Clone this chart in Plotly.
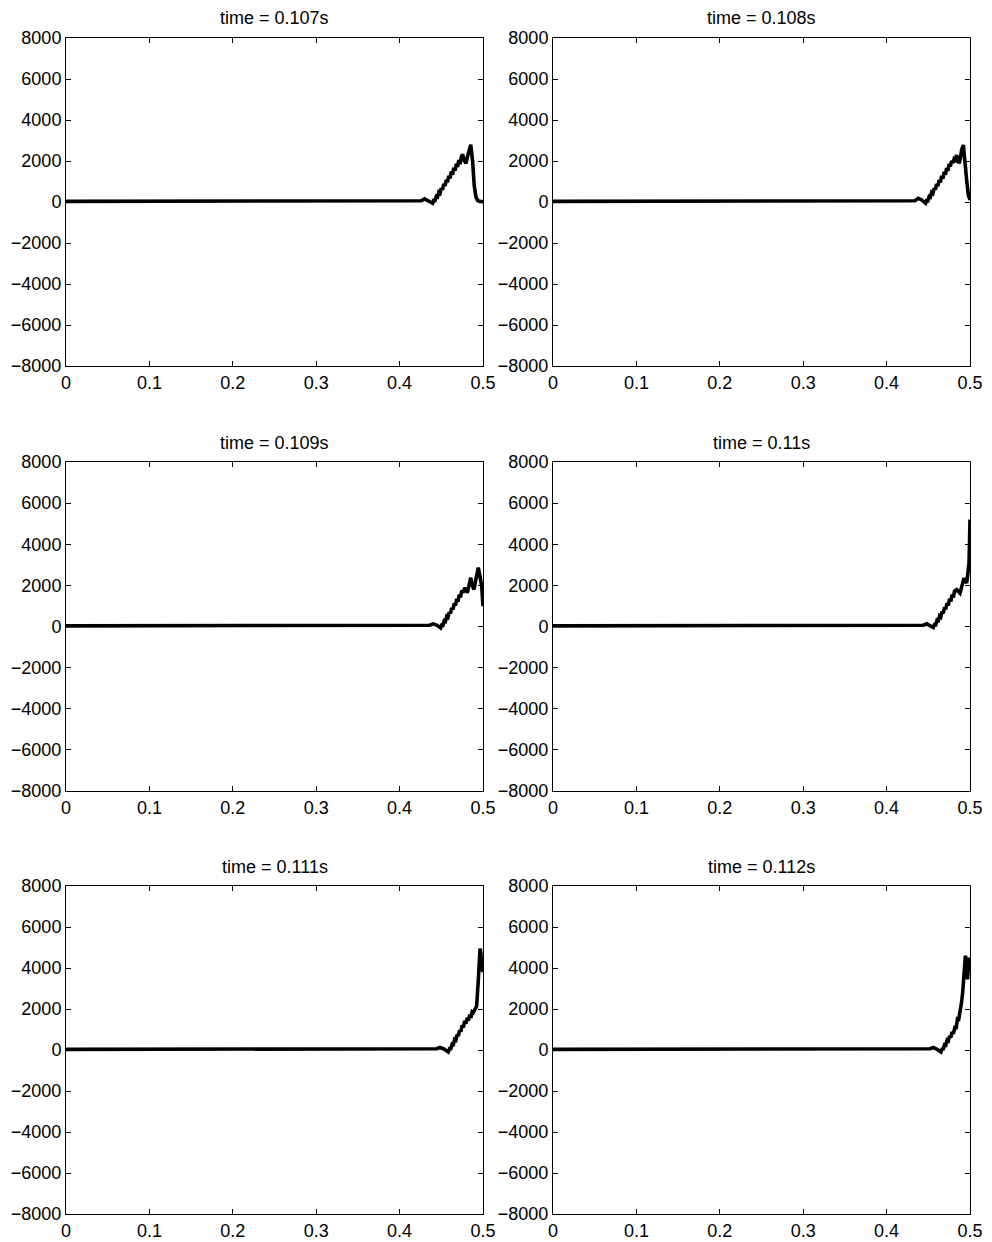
import plotly.graph_objects as go

# Snapshot times shown in each panel title
titles = ["time = 0.107s", "time = 0.108s", "time = 0.109s",
          "time = 0.11s", "time = 0.111s", "time = 0.112s"]

# Profile samples for each snapshot (position, value)
x1 = [0.0, 0.1, 0.2, 0.3, 0.4, 0.42, 0.426, 0.43, 0.434, 0.4396,
      0.441, 0.4425, 0.444, 0.4455, 0.447, 0.4485, 0.450, 0.4515, 0.453, 0.4545,
      0.456, 0.4575, 0.459, 0.4605, 0.462, 0.4635, 0.465, 0.4665, 0.468, 0.4695,
      0.471, 0.4725, 0.474, 0.4756, 0.4772, 0.4785, 0.4796, 0.481, 0.4825, 0.4853,
      0.4875, 0.4895, 0.4915, 0.4935, 0.496, 0.5]
y1 = [30, 30, 30, 30, 30, 30, 60, 150, 80, -60,
      80, 70, 280, 250, 480, 430, 680, 610, 880, 790,
      1080, 970, 1280, 1150, 1480, 1335, 1670, 1525, 1860, 1715,
      2050, 1850, 2200, 2320, 2050, 1950, 1880, 2150, 2450, 2800,
      2000, 800, 250, 80, 30, 20]

x2 = [0.0, 0.1, 0.2, 0.3, 0.4, 0.43, 0.434, 0.438, 0.442, 0.4468,
      0.448, 0.4495, 0.451, 0.4525, 0.454, 0.4555, 0.457, 0.4585, 0.460, 0.4615,
      0.463, 0.4645, 0.466, 0.4675, 0.469, 0.4705, 0.472, 0.4735, 0.475, 0.4765,
      0.478, 0.4795, 0.481, 0.4825, 0.484, 0.4855, 0.487, 0.4885, 0.490, 0.492,
      0.494, 0.496, 0.498, 0.5]
y2 = [30, 30, 30, 30, 30, 30, 60, 180, 100, -60,
      70, 60, 270, 240, 470, 420, 670, 600, 870, 780,
      1070, 960, 1270, 1140, 1470, 1330, 1660, 1520, 1850, 1740,
      2000, 1900, 2100, 2050, 2290, 2000, 1890, 2150, 2550, 2780,
      2100, 1070, 350, 100]

x3 = [0.0, 0.1, 0.2, 0.3, 0.4, 0.432, 0.436, 0.4405, 0.445, 0.4492,
      0.4505, 0.452, 0.4535, 0.455, 0.4565, 0.458, 0.4595, 0.461, 0.4625, 0.464,
      0.4655, 0.467, 0.4685, 0.470, 0.4715, 0.473, 0.4745, 0.476, 0.4784, 0.4812,
      0.483, 0.4853, 0.4872, 0.4892, 0.4915, 0.4944, 0.4965, 0.4984, 0.5]
y3 = [30, 30, 30, 30, 30, 30, 60, 130, 60, -70,
      70, 60, 280, 250, 490, 445, 700, 635, 910, 830,
      1125, 1020, 1340, 1210, 1545, 1410, 1750, 1650, 1890, 1640,
      2000, 2370, 2000, 1800, 2300, 2860, 2400, 1970, 990]

x4 = [0.0, 0.1, 0.2, 0.3, 0.4, 0.44, 0.444, 0.4481, 0.452, 0.456,
      0.4575, 0.459, 0.4605, 0.462, 0.4635, 0.465, 0.4665, 0.468, 0.4695, 0.471,
      0.4725, 0.474, 0.4755, 0.477, 0.4785, 0.480, 0.4815, 0.484, 0.486, 0.488,
      0.4905, 0.4928, 0.4945, 0.496, 0.4975, 0.4988, 0.4995, 0.5]
y4 = [30, 30, 30, 30, 30, 30, 60, 130, 60, -50,
      100, 90, 310, 280, 515, 465, 720, 650, 925, 840,
      1135, 1030, 1345, 1215, 1550, 1410, 1720, 1790, 1700, 1620,
      2000, 2360, 2200, 2110, 2600, 3090, 4200, 5200]

x5 = [0.0, 0.1, 0.2, 0.3, 0.4, 0.44, 0.4445, 0.4484, 0.453, 0.4584,
      0.46, 0.4615, 0.463, 0.4645, 0.466, 0.4675, 0.469, 0.4705, 0.472, 0.4735,
      0.475, 0.4765, 0.478, 0.4795, 0.481, 0.4825, 0.484, 0.4855, 0.487, 0.4884,
      0.4905, 0.4924, 0.4944, 0.4955, 0.4965, 0.4975, 0.4985, 0.5]
y5 = [30, 30, 30, 30, 30, 30, 60, 120, 50, -100,
      70, 65, 290, 270, 520, 480, 750, 690, 970, 890,
      1200, 1100, 1420, 1290, 1570, 1430, 1720, 1570, 1860, 1820,
      2000, 2150, 3450, 4300, 4950, 4700, 4000, 3800]

x6 = [0.0, 0.1, 0.2, 0.3, 0.4, 0.448, 0.452, 0.456, 0.46, 0.4652,
      0.4665, 0.468, 0.4695, 0.471, 0.4725, 0.474, 0.4755, 0.477, 0.4785, 0.480,
      0.482, 0.4835, 0.485, 0.4865, 0.488, 0.4898, 0.4912, 0.4928, 0.4945, 0.4958,
      0.497, 0.4985, 0.4995, 0.5]
y6 = [30, 30, 30, 30, 30, 30, 60, 120, 50, -100,
      40, 50, 260, 240, 480, 440, 690, 610, 890, 790,
      1110, 1100, 1520, 1500, 1820, 2300, 2800, 3700, 4600, 4300,
      3450, 4300, 4500, 4300]

# Axis ticks
x_ticks = [0, 0.1, 0.2, 0.3, 0.4, 0.5]
x_tick_text = ["0", "0.1", "0.2", "0.3", "0.4", "0.5"]
y_ticks = [-8000, -6000, -4000, -2000, 0, 2000, 4000, 6000, 8000]
y_tick_text = ["\u22128000", "\u22126000", "\u22124000", "\u22122000", "0",
               "2000", "4000", "6000", "8000"]

series = [(x1, y1), (x2, y2), (x3, y3), (x4, y4), (x5, y5), (x6, y6)]
for xs, ys in series:
    assert len(xs) == len(ys)

W, H = 992, 1242
col_px = [(66, 483), (553, 970)]
row_px = [(38, 366), (462, 791), (886, 1214)]

FONT = "Liberation Sans, Arial, Helvetica, sans-serif"

fig = go.Figure()
layout = dict(
    template="none",
    width=W, height=H, autosize=False,
    margin=dict(l=0, r=0, t=0, b=0, pad=0, autoexpand=False),
    paper_bgcolor="white", plot_bgcolor="white",
    showlegend=False,
    font=dict(family=FONT, size=18, color="black"),
)
annotations = []

for i, (xs, ys) in enumerate(series):
    r, c = divmod(i, 2)
    n = "" if i == 0 else str(i + 1)
    x0, x1p = col_px[c]
    t0, b0 = row_px[r]
    fig.add_trace(go.Scatter(
        x=xs, y=ys, mode="lines",
        line=dict(color="black", width=3.6),
        xaxis="x" + n, yaxis="y" + n, hoverinfo="skip",
    ))
    layout["xaxis" + n] = dict(
        domain=[x0 / W, x1p / W], anchor="y" + n, range=[0, 0.5],
        tickmode="array", tickvals=x_ticks, ticktext=x_tick_text,
        ticks="inside", ticklen=5, tickcolor="black", tickwidth=1,
        showline=True, linecolor="black", linewidth=1, mirror="ticks",
        showgrid=False, zeroline=False, fixedrange=True, automargin=False,
        tickfont=dict(family=FONT, size=18, color="black"),
    )
    layout["yaxis" + n] = dict(
        domain=[1 - b0 / H, 1 - t0 / H], anchor="x" + n, range=[-8000, 8000],
        tickmode="array", tickvals=y_ticks, ticktext=y_tick_text,
        ticks="inside", ticklen=5, tickcolor="black", tickwidth=1,
        showline=True, linecolor="black", linewidth=1, mirror="ticks",
        showgrid=False, zeroline=False, fixedrange=True, automargin=False,
        tickfont=dict(family=FONT, size=18, color="black"),
    )
    annotations.append(dict(
        text=titles[i], xref="paper", yref="paper",
        x=(x0 + x1p) / 2 / W, y=1 - (t0 - 19.5) / H,
        xanchor="center", yanchor="middle", showarrow=False,
        font=dict(family=FONT, size=18, color="black"),
    ))

layout["annotations"] = annotations
fig.update_layout(**layout)
fig.write_html(
    "out.html",
    config={"displayModeBar": False},
    post_script="document.body.style.margin='0';document.body.style.overflow='hidden';",
)
